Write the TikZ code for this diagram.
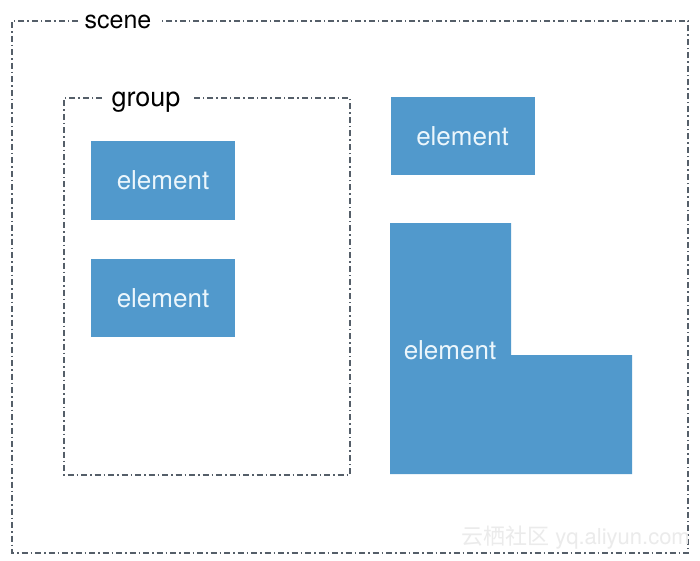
\documentclass[tikz,border=0pt]{standalone}
\usepackage{fontspec}
\setmainfont{TeX Gyre Heros}
\newfontfamily\cjk{Noto Sans CJK SC}
\definecolor{elblue}{RGB}{81,153,204}
\definecolor{eltext}{RGB}{235,246,252}
\definecolor{frame}{RGB}{85,95,105}
\begin{document}
\begin{tikzpicture}[x=1pt,y=-1pt,
  frameline/.style={draw=frame,line width=1.2pt,dash pattern=on 6pt off 3pt on 1.5pt off 3pt},
  elbox/.style={fill=elblue,draw=none,minimum width=144pt,minimum height=78pt,inner sep=0pt,
    font=\fontsize{26}{30}\selectfont,text=eltext},
  lbl/.style={text=black,inner sep=0pt,anchor=base}]
\fill[white] (0,0) rectangle (700,561);
\useasboundingbox (0,0) rectangle (700,561);
% scene frame
\coordinate (sTL) at (12,21);
\coordinate (sTR) at (688,21);
\coordinate (sBR) at (688,553);
\coordinate (sBL) at (12,553);
\coordinate (sG1) at (78,21);
\coordinate (sG2) at (160,21);
\draw[frameline] (sG1) -- (sTL) -- (sBL) -- (sBR) -- (sTR) -- (sG2);
\node[lbl,font=\fontsize{25}{29}\selectfont] (scene) at (118,29) {scene};
% group frame
\coordinate (gTL) at (64,98);
\coordinate (gTR) at (350,98);
\coordinate (gBR) at (350,475);
\coordinate (gBL) at (64,475);
\coordinate (gG1) at (102,98);
\coordinate (gG2) at (191,98);
\draw[frameline] (gG1) -- (gTL) -- (gBL) -- (gBR) -- (gTR) -- (gG2);
\node[lbl,font=\fontsize{27}{31}\selectfont] (group) at (146,107) {group};
% elements
\node[elbox] (e1) at (163,180.5) {element};
\node[elbox] (e2) at (163,298) {element};
\node[elbox] (e3) at (462.5,136) {element};
% L-shaped element
\fill[elblue] (390,223) -- (511,223) -- (511,355) -- (632,355) -- (632,474) -- (390,474) -- cycle;
\node[font=\fontsize{26}{30}\selectfont,text=eltext,inner sep=0pt] (e4) at (450,350) {element};
% watermark
\node[font=\fontsize{22}{26}\selectfont,text=black!8,inner sep=0pt,anchor=east] (wm) at (690,538) {{\cjk 云栖社区} yq.aliyun.com};
\end{tikzpicture}
\end{document}
